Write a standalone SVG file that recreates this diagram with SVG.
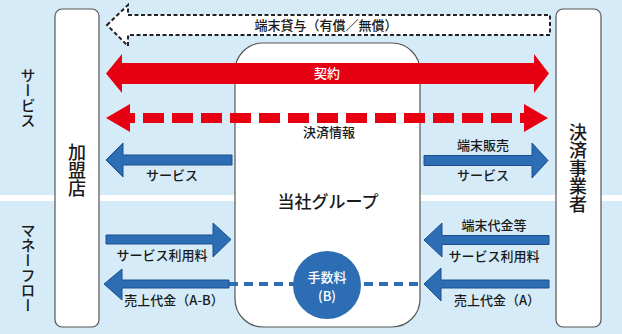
<svg xmlns="http://www.w3.org/2000/svg" width="622" height="334" viewBox="0 0 622 334">
<style>
.t{font-family:"Noto Sans CJK JP","Noto Sans",sans-serif;fill:#1a1a1a;text-anchor:middle;font-weight:500}
.w{fill:#fff}
.v{writing-mode:vertical-rl}
.node{fill:#fff;stroke:#555;stroke-width:1.2}
.blue{fill:#2c6db4;stroke:#1d4f8e;stroke-width:1}
.red{fill:#e60012}
</style>
<rect x="0" y="0" width="622" height="334" fill="#d5ebf8"/>
<rect x="0" y="195" width="622" height="6" fill="#fff"/>
<text class="t v" x="28" y="98" font-size="15">サービス</text>
<text class="t v" x="28" y="268" font-size="15">マネーフロー</text>
<g id="node-kameiten">
<rect class="node" x="55" y="9" width="44" height="318" rx="7"/>
<text class="t v" x="77" y="170" font-size="18">加盟店</text>
</g>
<g id="node-kessai">
<rect class="node" x="556" y="9" width="45" height="318" rx="7"/>
<text class="t v" x="578" y="168" font-size="18">決済事業者</text>
</g>
<g id="node-group">
<rect class="node" x="235" y="43" width="185" height="284" rx="28"/>
<text class="t" x="328" y="208" font-size="17">当社グループ</text>
</g>
<g id="connectors">
<polygon points="107,25 128,5 128,15 550,15 550,35 128,35 128,46" fill="#fff" stroke="#222" stroke-width="2" stroke-dasharray="4 2.5"/>
<text class="t" x="326" y="30" font-size="13">端末貸与（有償／無償）</text>
<polygon class="red" points="106,73.5 122,54 122,63 534,63 534,54 549,73.5 534,93 534,84 122,84 122,93"/>
<text class="t w" x="327" y="78" font-size="13">契約</text>
<polygon class="red" points="106,118 130,104 130,132"/>
<polygon class="red" points="548,118 524,104 524,132"/>
<line x1="130" y1="118" x2="524" y2="118" stroke="#e60012" stroke-width="10" stroke-dasharray="21 8" stroke-dashoffset="16"/>
<text class="t" x="329" y="137" font-size="13">決済情報</text>
<polygon class="blue" points="106,160 123,143 123,155 232,155 232,165 123,165 123,177"/>
<text class="t" x="172" y="180" font-size="13">サービス</text>
<polygon class="blue" points="548,160.5 532,143 532,155.5 424,155.5 424,165.5 532,165.5 532,178"/>
<text class="t" x="483" y="150" font-size="13">端末販売</text>
<text class="t" x="483" y="180" font-size="13">サービス</text>
<polygon class="blue" points="231,239.5 213,223 213,235 106,235 106,244 213,244 213,257"/>
<text class="t" x="162" y="260" font-size="13">サービス利用料</text>
<line x1="229" y1="284" x2="424" y2="284" stroke="#2c6db4" stroke-width="4" stroke-dasharray="9 6"/>
<polygon class="blue" points="104,284 122,269 122,280 229,280 229,288 122,288 122,300"/>
<text class="t" x="174" y="305" font-size="13">売上代金（A-B）</text>
<polygon class="blue" points="424,240 442,223 442,235.5 549,235.5 549,244.5 442,244.5 442,257"/>
<text class="t" x="494" y="230" font-size="13">端末代金等</text>
<text class="t" x="494" y="261" font-size="13">サービス利用料</text>
<polygon class="blue" points="424,284 441,268 441,280 549,280 549,288 441,288 441,301"/>
<text class="t" x="497" y="305" font-size="13">売上代金（A）</text>
</g>
<g id="node-fee">
<circle cx="327" cy="285" r="34" fill="#2c6db4"/>
<text class="t w" x="327" y="282" font-size="13">手数料</text>
<text class="t w" x="327" y="301" font-size="13">(B)</text>
</g>
</svg>
